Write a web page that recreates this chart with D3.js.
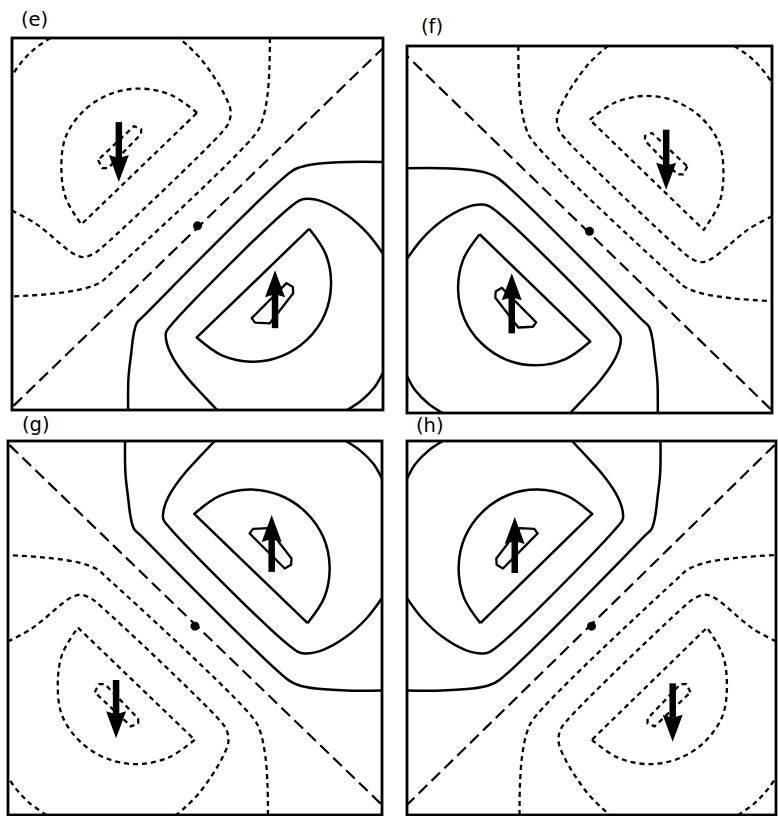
<!DOCTYPE html>
<html>
<head>
<meta charset="utf-8">
<script src="https://cdn.jsdelivr.net/npm/d3@7"></script>
<style>
  html, body { margin: 0; padding: 0; background: #fff; }
  svg { display: block; }
</style>
</head>
<body>
<svg id="fig" width="778" height="816"></svg>
<script>
// ---------------------------------------------------------------
// Panel titles
const panelLabels = ["(e)", "(f)", "(g)", "(h)"];

// Field contours in unit-square coordinates of the base orientation
// (x to the right, y downward). The four panels show the same field
// mirrored about the vertical and/or horizontal mid-lines.

// Nodal line (long dashes) and the saddle point on it
const nodalLine = [[0.004, 0.989], [0.999, 0.028]];
const nodalPoint = [0.5, 0.505];

// Positive lobe: solid contours (repeated points mark sharp corners)
const positiveContours = [
  [[0.313, 1.0], [0.314, 0.913], [0.321, 0.850], [0.328, 0.796], [0.337, 0.765],
   [0.355, 0.747], [0.751, 0.360], [0.778, 0.347], [0.823, 0.338], [0.905, 0.333], [1.0, 0.333]],
  [[1.0, 0.580], [0.959, 0.526], [0.905, 0.477], [0.841, 0.441], [0.796, 0.432], [0.774, 0.437],
   [0.427, 0.774], [0.415, 0.792], [0.418, 0.823], [0.436, 0.863], [0.472, 0.913], [0.513, 0.958], [0.553, 1.0]],
  [[0.903, 1.0], [0.941, 0.975], [0.977, 0.939], [1.0, 0.899]],
  [[0.801, 0.513], [0.846, 0.582], [0.860, 0.663], [0.843, 0.743], [0.796, 0.810], [0.727, 0.855],
   [0.646, 0.870], [0.566, 0.853], [0.498, 0.805], [0.498, 0.805], [0.801, 0.513]]
];
// Innermost positive contour (small closed polygon)
const positiveCore = [[0.646, 0.753], [0.655, 0.765], [0.695, 0.767], [0.758, 0.686], [0.757, 0.669], [0.740, 0.659]];

// Negative lobe: short-dashed contours
const negativeContours = [
  [[0.103, 0], [0.060, 0.030], [0.028, 0.062], [0, 0.100]],
  [[0, 0.464], [0.058, 0.495], [0.094, 0.522], [0.130, 0.553], [0.166, 0.580], [0.193, 0.589],
   [0.220, 0.580], [0.238, 0.567], [0.567, 0.252], [0.585, 0.226], [0.589, 0.194], [0.571, 0.149],
   [0.544, 0.104], [0.508, 0.055], [0.472, 0.019], [0.450, 0]],
  [[0.695, 0], [0.694, 0.077], [0.688, 0.158], [0.675, 0.221], [0.657, 0.257], [0.265, 0.634],
   [0.238, 0.657], [0.193, 0.674], [0.103, 0.688], [0, 0.695]],
  [[0.499, 0.201], [0.430, 0.154], [0.347, 0.136], [0.264, 0.151], [0.193, 0.196], [0.145, 0.265],
   [0.133, 0.348], [0.145, 0.430], [0.187, 0.501], [0.187, 0.501], [0.499, 0.201]]
];
// Innermost negative contour
const negativeCore = [[0.232, 0.328], [0.243, 0.350], [0.259, 0.350], [0.348, 0.258], [0.348, 0.245], [0.329, 0.237]];

// Spin arrows, panel-local unit coordinates (e, f, g, h)
const upArrowX    = [0.709, 0.287, 0.705, 0.292];
const upArrowTail = [0.780, 0.783, 0.350, 0.353];
const upArrowTip  = [0.624, 0.619, 0.198, 0.203];
const downArrowX    = [0.288, 0.710, 0.289, 0.720];
const downArrowTail = [0.226, 0.228, 0.639, 0.648];
const downArrowTip  = [0.387, 0.392, 0.795, 0.804];

// ---------------------------------------------------------------
// Layout
const frames = [
  { x0: 12,  x1: 383, y0: 38,  y1: 410, flipX: false, flipY: false, lx: 21,  ly: 25.5 },
  { x0: 407, x1: 772, y0: 46,  y1: 413, flipX: true,  flipY: false, lx: 421, ly: 32.5 },
  { x0: 8,   x1: 382, y0: 441, y1: 815, flipX: false, flipY: true,  lx: 22,  ly: 431 },
  { x0: 407, x1: 776, y0: 441, y1: 815, flipX: true,  flipY: true,  lx: 416, ly: 432 }
];

const svg = d3.select("#fig");
const defs = svg.append("defs");

frames.forEach((f, i) => {
  // field scales (mirrored per panel) and plain panel scales for arrows
  const fx = d3.scaleLinear().domain([0, 1]).range(f.flipX ? [f.x1, f.x0] : [f.x0, f.x1]);
  const fy = d3.scaleLinear().domain([0, 1]).range(f.flipY ? [f.y1, f.y0] : [f.y0, f.y1]);
  const px = d3.scaleLinear().domain([0, 1]).range([f.x0, f.x1]);
  const py = d3.scaleLinear().domain([0, 1]).range([f.y0, f.y1]);

  const smooth = d3.line().x(d => fx(d[0])).y(d => fy(d[1])).curve(d3.curveCatmullRom.alpha(0.5));
  const poly = d3.line().x(d => fx(d[0])).y(d => fy(d[1])).curve(d3.curveLinearClosed);

  defs.append("clipPath").attr("id", "clip" + i)
    .append("rect").attr("x", f.x0).attr("y", f.y0)
    .attr("width", f.x1 - f.x0).attr("height", f.y1 - f.y0);

  const g = svg.append("g");
  const inner = g.append("g").attr("clip-path", `url(#clip${i})`);

  // nodal line
  inner.append("path")
    .attr("d", d3.line().x(d => fx(d[0])).y(d => fy(d[1]))(nodalLine))
    .attr("fill", "none").attr("stroke", "#000").attr("stroke-width", 2.2)
    .attr("stroke-dasharray", "12,6");

  // positive contours
  inner.selectAll("path.pos").data(positiveContours).join("path")
    .attr("class", "pos")
    .attr("d", smooth)
    .attr("fill", "none").attr("stroke", "#000").attr("stroke-width", 2.5)
    .attr("stroke-linejoin", "round");
  inner.append("path").attr("d", poly(positiveCore))
    .attr("fill", "#fff").attr("stroke", "#000").attr("stroke-width", 2.3)
    .attr("stroke-linejoin", "round");

  // negative contours
  inner.selectAll("path.neg").data(negativeContours).join("path")
    .attr("class", "neg")
    .attr("d", smooth)
    .attr("fill", "none").attr("stroke", "#000").attr("stroke-width", 2.3)
    .attr("stroke-dasharray", "5,4");
  inner.append("path").attr("d", poly(negativeCore))
    .attr("fill", "none").attr("stroke", "#000").attr("stroke-width", 2.3)
    .attr("stroke-dasharray", "5,4");

  // saddle point
  inner.append("circle")
    .attr("cx", fx(nodalPoint[0])).attr("cy", fy(nodalPoint[1])).attr("r", 4.5)
    .attr("fill", "#000");

  // arrows
  const arrows = [
    { x: upArrowX[i], tail: upArrowTail[i], tip: upArrowTip[i] },
    { x: downArrowX[i], tail: downArrowTail[i], tip: downArrowTip[i] }
  ];
  const headLen = 27, headW = 20, notch = 3;
  arrows.forEach(a => {
    const x = px(a.x), yTail = py(a.tail), yTip = py(a.tip);
    const dir = yTip < yTail ? -1 : 1;
    const base = yTip - dir * headLen;
    g.append("line")
      .attr("x1", x).attr("x2", x)
      .attr("y1", yTail).attr("y2", base + dir * notch)
      .attr("stroke", "#000").attr("stroke-width", 6.5);
    g.append("path")
      .attr("d", d3.line()([
        [x, yTip], [x + headW / 2, base], [x, base + dir * notch], [x - headW / 2, base]
      ]) + "Z")
      .attr("fill", "#000");
  });

  // frame
  g.append("rect")
    .attr("x", f.x0).attr("y", f.y0)
    .attr("width", f.x1 - f.x0).attr("height", f.y1 - f.y0)
    .attr("fill", "none").attr("stroke", "#000").attr("stroke-width", 2.8);

  // title
  svg.append("text")
    .attr("x", f.lx).attr("y", f.ly)
    .attr("font-family", "DejaVu Sans, sans-serif")
    .attr("font-size", 19.5)
    .attr("fill", "#000")
    .text(panelLabels[i]);
});
</script>
</body>
</html>
